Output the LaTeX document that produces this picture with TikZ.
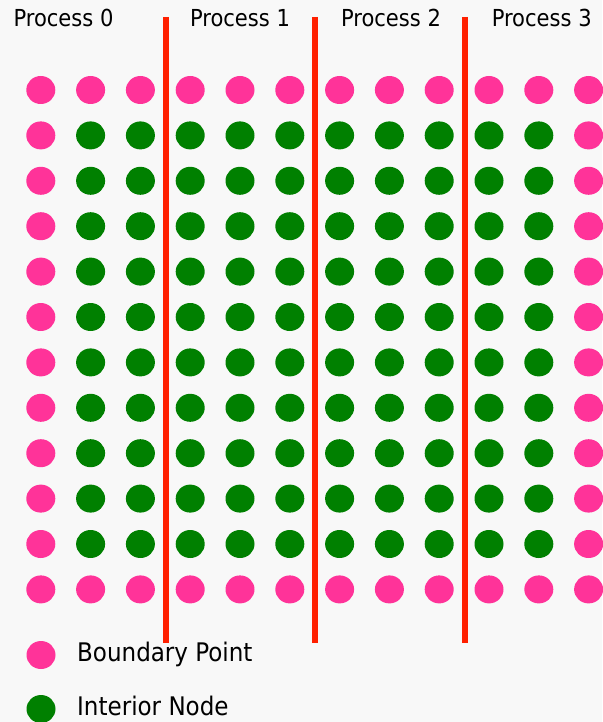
\documentclass[tikz,border=0pt]{standalone}
\usepackage{fontspec}
\setmainfont{DejaVu Sans Condensed}
\usetikzlibrary{shapes.geometric}
\definecolor{bndpink}{RGB}{255,51,153}
\definecolor{intgreen}{RGB}{0,128,0}
\definecolor{divred}{RGB}{255,32,0}
\definecolor{bgcol}{RGB}{248,248,248}

\begin{document}
\begin{tikzpicture}[
    x=1pt, y=-1pt,
    font=\fontsize{23.4}{27}\selectfont,
    dot/.style={
        ellipse,
        minimum width=29pt,
        minimum height=28pt,
        inner sep=0pt
    },
    bnd/.style={dot, fill=bndpink},
    intr/.style={dot, fill=intgreen},
    divider/.style={line width=5.5pt, divred},
    lab/.style={anchor=base, inner sep=0pt},
    leg/.style={
        anchor=base west,
        inner sep=0pt,
        font=\fontsize{25.6}{30}\selectfont
    }
]

% ---------------- Canvas ----------------
\fill[bgcol] (0,0) rectangle (602,722);
\useasboundingbox (0,0) rectangle (602,722);

% ---------------- Grid ----------------
\foreach \i in {1,...,10}
    \foreach \j in {1,...,10}
        \node[intr] (p-\i-\j) at ({40.8+49.8*\i}, {90+45.4*\j}) {};

\foreach \i in {0,...,11}
    \foreach \j in {0,11}
        \node[bnd] (p-\i-\j) at ({40.8+49.8*\i}, {90+45.4*\j}) {};

\foreach \j in {1,...,10}
    \foreach \i in {0,11}
        \node[bnd] (p-\i-\j) at ({40.8+49.8*\i}, {90+45.4*\j}) {};

% ---------------- Process labels ----------------
\node[lab] (proc0) at (63.5, 26.7) {Process 0};
\node[lab] (proc1) at (240,  26.7) {Process 1};
\node[lab] (proc2) at (391,  26.7) {Process 2};
\node[lab] (proc3) at (541.7,26.7) {Process 3};

% ---------------- Dividers ----------------
\coordinate (div1-top) at (166, 17);
\coordinate (div1-bot) at (166, 643);
\coordinate (div2-top) at (315, 17);
\coordinate (div2-bot) at (315, 643);
\coordinate (div3-top) at (465, 17);
\coordinate (div3-bot) at (465, 643);

\draw[divider] (div1-top) -- (div1-bot);
\draw[divider] (div2-top) -- (div2-bot);
\draw[divider] (div3-top) -- (div3-bot);

% ---------------- Legend ----------------
\node[bnd] (leg-bnd) at (41, 655) {};
\node[leg] (leg-bnd-txt) at (77, 661.5) {Boundary Point};

\node[intr] (leg-int) at (41, 709) {};
\node[leg] (leg-int-txt) at (77, 715) {Interior Node};

\end{tikzpicture}
\end{document}
